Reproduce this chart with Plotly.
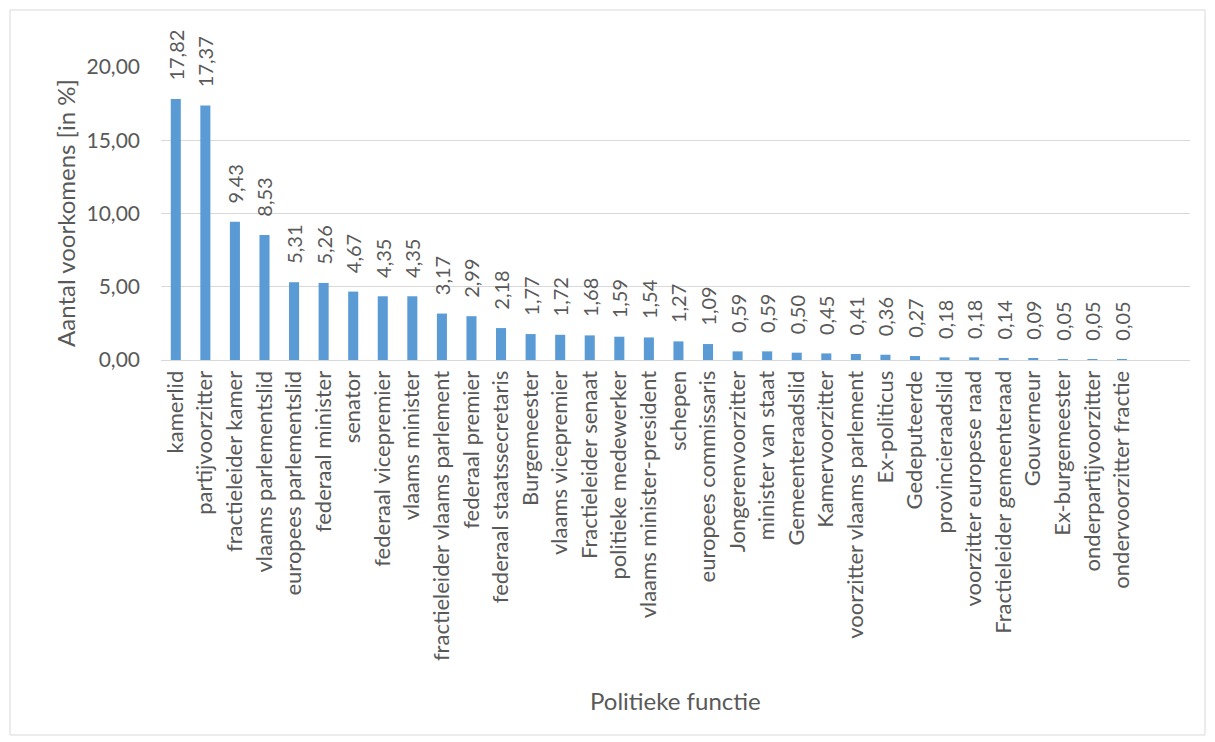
import plotly.graph_objects as go

categories = ["kamerlid", "partijvoorzitter", "fractieleider kamer", "vlaams parlementslid",
              "europees parlementslid", "federaal minister", "senator", "federaal vicepremier",
              "vlaams minister", "fractieleider vlaams parlement", "federaal premier",
              "federaal staatssecretaris", "Burgemeester", "vlaams vicepremier",
              "Fractieleider senaat", "politieke medewerker", "vlaams minister-president",
              "schepen", "europees commissaris", "Jongerenvoorzitter", "minister van staat",
              "Gemeenteraadslid", "Kamervoorzitter", "voorzitter vlaams parlement",
              "Ex-politicus", "Gedeputeerde", "provincieraadslid", "voorzitter europese raad",
              "Fractieleider gemeenteraad", "Gouverneur", "Ex-burgemeester",
              "onderpartijvoorzitter", "ondervoorzitter fractie"]
values = [17.82, 17.37, 9.43, 8.53, 5.31, 5.26, 4.67, 4.35, 4.35, 3.17, 2.99, 2.18,
          1.77, 1.72, 1.68, 1.59, 1.54, 1.27, 1.09, 0.59, 0.59, 0.50, 0.45, 0.41,
          0.36, 0.27, 0.18, 0.18, 0.14, 0.09, 0.05, 0.05, 0.05]
y_ticks = [0, 5, 10, 15, 20]

labels = ["\u00a0\u00a0\u00a0" + f"{v:.2f}".replace(".", ",") for v in values]
FONT = "Lato"
GREY = "#595959"

fig = go.Figure(go.Bar(
    x=list(range(len(categories))), y=values, text=labels,
    textposition="outside", textangle=-90, constraintext="none", cliponaxis=False,
    textfont=dict(family=FONT, size=20, color=GREY),
    marker=dict(color="#5b9bd5", line=dict(width=0)), width=0.34,
))

# page has an 8px body margin: figure coords = screen coords - 8
OFF = 8
W, H = 1215 - OFF, 742 - OFF
L, T = 161 - OFF, 67 - OFF
R = W - (1190 - OFF)
B = H - (360 - OFF)
pw, ph = W - L - R, H - T - B


def px(xs):
    return (xs - OFF - L) / pw


def py(ys):
    return (H - B - (ys - OFF)) / ph


fig.update_layout(
    width=W, height=H, margin=dict(l=L, r=R, t=T, b=B),
    paper_bgcolor="white", plot_bgcolor="white", showlegend=False,
    separators=",.",
    font=dict(family=FONT, size=20, color=GREY),
    xaxis=dict(tickmode="array", tickvals=list(range(len(categories))), ticktext=categories,
               tickangle=-90, range=[-0.5, 34.3], showgrid=False, showline=True,
               linecolor="#d9d9d9", linewidth=1, ticks="", zeroline=False,
               ticklabelstandoff=1,
               tickfont=dict(family=FONT, size=22, color=GREY)),
    yaxis=dict(range=[0, 20], tickvals=y_ticks, tickformat=".2f", showgrid=True,
               gridcolor="#d9d9d9", gridwidth=1, zeroline=False, showline=False,
               ticks="", ticklabelstandoff=20,
               tickfont=dict(family=FONT, size=21, color=GREY)),
    shapes=[dict(type="rect", xref="paper", yref="paper",
                 x0=px(10), x1=px(1205), y0=py(735), y1=py(10),
                 line=dict(color="#d9d9d9", width=1), fillcolor="rgba(0,0,0,0)", layer="below")],
    annotations=[
        dict(text="Aantal voorkomens [in %]", xref="paper", yref="paper",
             x=px(65), y=py(213), showarrow=False, textangle=-90,
             font=dict(family=FONT, size=24, color=GREY), xanchor="center", yanchor="middle"),
        dict(text="Politieke functie", xref="paper", yref="paper",
             x=px(675), y=py(700), showarrow=False,
             font=dict(family=FONT, size=24, color=GREY), xanchor="center", yanchor="middle"),
    ],
)

fig.write_html("out.html")
